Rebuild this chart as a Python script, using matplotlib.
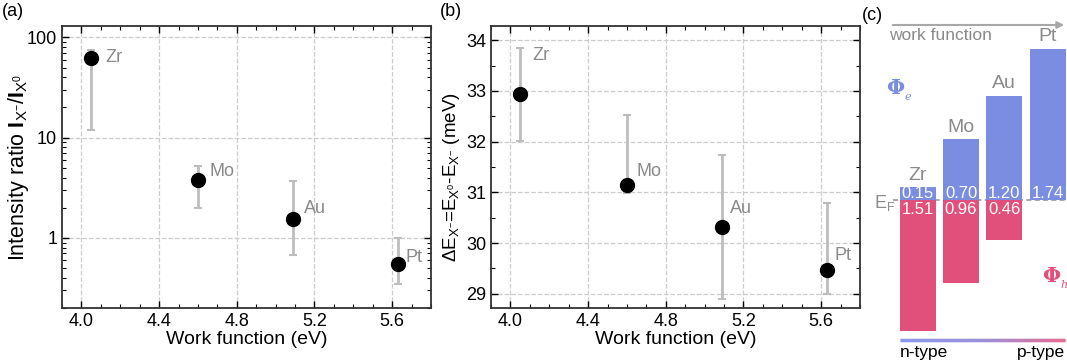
import numpy as np
import matplotlib
matplotlib.use("Agg")
import matplotlib.pyplot as plt
from matplotlib.ticker import MultipleLocator, LogLocator, NullFormatter
from matplotlib.colors import LinearSegmentedColormap

plt.rcParams['font.family'] = ['Liberation Sans', 'DejaVu Sans']
plt.rcParams['mathtext.fontset'] = 'custom'
plt.rcParams['mathtext.rm'] = 'Liberation Sans'
plt.rcParams['mathtext.it'] = 'Liberation Sans:italic'
plt.rcParams['mathtext.bf'] = 'Liberation Sans:bold'

metals = ['Zr', 'Mo', 'Au', 'Pt']
work_fn = [4.05, 4.60, 5.09, 5.63]

# (a) intensity ratio, log scale
ratio = [62, 3.75, 1.54, 0.55]
ratio_lo = [12, 2.0, 0.68, 0.35]
ratio_hi = [75, 5.2, 3.7, 1.0]

# (b) energy splitting
dE = [32.93, 31.15, 30.32, 29.47]
dE_lo = [32.02, 30.98, 28.90, 29.00]
dE_hi = [33.85, 32.53, 31.73, 30.80]

# (c) barrier heights
phi_e = [0.15, 0.70, 1.20, 1.74]
phi_h = [1.51, 0.96, 0.46, 0.0]

# label offsets (pixels) for the metal names
off_a = [(14, 1), (12, 9), (11, 11), (8, 6)]
off_b = [(12, 39), (10, 13), (8, 18), (8, 14)]

fig = plt.figure(figsize=(10.67, 3.6), dpi=100)
W, H = 1067, 360
ax1 = fig.add_axes([62/W, 1-308/H, 369/W, 282/H])
ax2 = fig.add_axes([491/W, 1-308/H, 369/W, 282/H])
ax3 = fig.add_axes([860/W, 0, 207/W, 1])

gray_txt = '#8a8a8a'
err_c = '#bdbdbd'


def style(ax):
    ax.set_xlim(3.9, 5.8)
    ax.xaxis.set_major_locator(MultipleLocator(0.4))
    ax.xaxis.set_minor_locator(MultipleLocator(0.1))
    ax.tick_params(which='both', direction='in', top=True, right=True)
    ax.tick_params(which='major', length=5, width=1, labelsize=13)
    ax.tick_params(which='minor', length=3, width=0.8)
    for s in ax.spines.values():
        s.set_linewidth(1.3)
        s.set_color('#333333')
    ax.grid(True, which='major', ls='--', color='#cccccc', lw=0.9)
    ax.set_axisbelow(True)
    ax.set_xlabel('Work function (eV)', fontsize=14, labelpad=1)


def names(ax, ys, offs):
    for x, y, m, o in zip(work_fn, ys, metals, offs):
        ax.annotate(m, (x, y), xytext=(o[0]*0.72, o[1]*0.72), textcoords='offset points',
                    color=gray_txt, fontsize=13, ha='left', va='center')


# panel a
style(ax1)
ax1.set_yscale('log')
ax1.set_ylim(0.2, 130)
ax1.yaxis.set_minor_locator(LogLocator(base=10, subs=np.arange(2, 10), numticks=10))
ax1.yaxis.set_minor_formatter(NullFormatter())
ax1.set_yticks([1, 10, 100])
ax1.set_yticklabels(['1', '10', '100'])
yerr_a = [np.array(ratio) - np.array(ratio_lo), np.array(ratio_hi) - np.array(ratio)]
ax1.errorbar(work_fn, ratio, yerr=yerr_a, fmt='o', color='black', ms=10,
             ecolor=err_c, elinewidth=2, capsize=3, capthick=1.5, zorder=3)
names(ax1, ratio, off_a)
ax1.set_ylabel(r'Intensity ratio $\mathbf{I}_{\mathrm{X}^{-}}/\mathbf{I}_{\mathrm{X}^{0}}$',
               fontsize=15.5)
ax1.yaxis.set_label_coords(-0.085, 0.5)

# panel b
style(ax2)
ax2.set_ylim(28.72, 34.28)
ax2.yaxis.set_major_locator(MultipleLocator(1))
ax2.yaxis.set_minor_locator(MultipleLocator(0.5))
yerr_b = [np.array(dE) - np.array(dE_lo), np.array(dE_hi) - np.array(dE)]
ax2.errorbar(work_fn, dE, yerr=yerr_b, fmt='o', color='black', ms=10,
             ecolor=err_c, elinewidth=2, capsize=3, capthick=1.5, zorder=3)
names(ax2, dE, off_b)
ax2.set_ylabel(r'$\Delta$E$_{\mathrm{X}^{-}}$=E$_{\mathrm{X}^{0}}$-E$_{\mathrm{X}^{-}}$ (meV)',
               fontsize=13.5)
ax2.yaxis.set_label_coords(-0.079, 0.465)

fig.text(2/W, 1-12/H, '(a)', fontsize=13, va='center')
fig.text(440/W, 1-12/H, '(b)', fontsize=13, va='center')
fig.text(862/W, 1-15/H, '(c)', fontsize=13, va='center')

# panel c: schematic band alignment
blue = '#7a8de0'
red = '#e0507a'
ax3.set_xlim(-1.333, 3.448)
ax3.set_ylim(-1.843, 2.304)
ax3.axis('off')
pos = np.arange(len(metals))
bw = 0.83
ax3.bar(pos, phi_e, width=bw, color=blue, zorder=2)
ax3.bar(pos, [-v for v in phi_h], width=bw, color=red, zorder=2)
ax3.plot([-0.58, 3.43], [0, 0], ls=(0, (3, 2)), color='#999999', lw=1.2, zorder=1)
for p, e, h, m in zip(pos, phi_e, phi_h, metals):
    ax3.text(p, e + 0.04, m, ha='center', va='bottom', color=gray_txt, fontsize=14)
    ax3.text(p, 0.08, f'{e:.2f}', ha='center', va='center', color='white', fontsize=12, zorder=4)
    if h > 0:
        ax3.text(p, -0.115, f'{h:.2f}', ha='center', va='center', color='white', fontsize=12,
                 zorder=4)
ax3.text(-0.77, -0.03, r'E$_\mathrm{F}$', ha='center', va='center', color=gray_txt, fontsize=13)


def phi(x, y, sub, c):
    ax3.text(x, y, r'$\mathbf{\Phi}$', ha='center', va='center', color=c,
             fontsize=15, math_fontfamily='dejavuserif')
    ax3.annotate(sub, (x, y), xytext=(6, -6), textcoords='offset points', color=c,
                 fontsize=8, family='DejaVu Serif', style='italic', ha='left', va='center')


phi(-0.5, 1.28, 'e', blue)
phi(3.1, -0.88, 'h', red)

# work function arrow
ax3.annotate('', xy=(1.0, 1 - 25/H), xytext=(30/207, 1 - 25/H), xycoords='axes fraction',
             arrowprops=dict(arrowstyle='-|>', color='#a8a8a8', lw=1.5, mutation_scale=10))
ax3.text(29/207, 1 - 36/H, 'work function', transform=ax3.transAxes, color=gray_txt,
         fontsize=12.5, va='center', ha='left')

# n-type -> p-type gradient line
grad = LinearSegmentedColormap.from_list('np', ['#6478e8', '#7a6cd0', '#e03c6a'])
gx = np.linspace(40/207, 205/207, 200)
for i in range(len(gx) - 1):
    ax3.plot(gx[i:i+2], [1 - 340/H] * 2, color=grad(i / (len(gx) - 2)), lw=2.5,
             transform=ax3.transAxes, solid_capstyle='butt')
ax3.text(40/207, 1 - 352/H, 'n-type', transform=ax3.transAxes, fontsize=12.5,
         ha='left', va='center')
ax3.text(205/207, 1 - 352/H, 'p-type', transform=ax3.transAxes, fontsize=12.5,
         ha='right', va='center')

fig.savefig('out.png', dpi=100)
